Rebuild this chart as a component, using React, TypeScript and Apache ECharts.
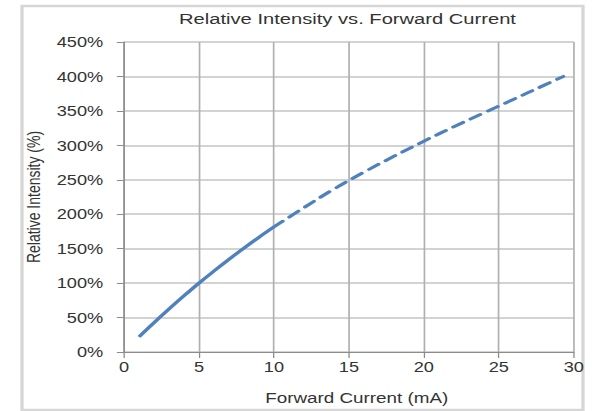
import React, { useEffect, useRef } from "react";
import * as echarts from "echarts";

const solidX = [1, 2, 3, 4, 5, 6, 7, 8, 9, 10];
const solidY = [22, 42.5, 62.3, 81.5, 100, 117.5, 134.5, 150.8, 166.5, 181.5];
const dashedX = [10, 12, 14, 16, 18, 20, 22, 24, 26, 28, 29.3];
const dashedY = [181.5, 209.5, 236.5, 261, 284, 306, 327, 347, 367, 387, 400];
const yTicks = [0, 50, 100, 150, 200, 250, 300, 350, 400, 450];
const xTicks = [0, 5, 10, 15, 20, 25, 30];

const FONT = "'Liberation Sans', Arial, sans-serif";
const SX = 1.3; // the reference image is stretched horizontally
const W = 606 / SX;
const H = 411;

export default function App() {
  const ref = useRef<HTMLDivElement>(null);
  useEffect(() => {
    if (!ref.current) return;
    const chart = echarts.init(ref.current, undefined, { renderer: "svg" });
    const left = 124 / SX;
    const right = 32 / SX;
    chart.setOption({
      animation: false,
      backgroundColor: "#ffffff",
      graphic: [
        {
          type: "rect",
          shape: { x: 22 / SX, y: 6, width: 561 / SX, height: 404 },
          style: { fill: "none", stroke: "#d6d6d6", lineWidth: 2.5 },
          silent: true,
        },
      ],
      title: {
        text: "Relative Intensity vs. Forward Current",
        left: 341 / SX,
        textAlign: "center",
        top: 6,
        textStyle: { fontFamily: FONT, fontSize: 15.5, fontWeight: "normal", color: "#333" },
      },
      grid: { left, right, top: 42, bottom: 58, containLabel: false },
      xAxis: {
        type: "value",
        min: xTicks[0],
        max: xTicks[xTicks.length - 1],
        interval: 5,
        name: "Forward Current (mA)",
        nameLocation: "middle",
        nameGap: 39,
        nameTextStyle: { fontFamily: FONT, fontSize: 14.5, color: "#333", padding: [0, 0, 0, 12] },
        axisLine: { show: true, lineStyle: { color: "#8c8c8c", width: 1.2 } },
        axisTick: { show: true, length: 6, lineStyle: { color: "#8c8c8c" } },
        axisLabel: { fontFamily: FONT, fontSize: 14, color: "#333", margin: 8 },
        splitLine: { show: true, lineStyle: { color: "#b0b0b0", width: 1.3 } },
      },
      yAxis: {
        type: "value",
        min: yTicks[0],
        max: yTicks[yTicks.length - 1],
        interval: 50,
        name: "Relative Intensity (%)",
        nameLocation: "middle",
        nameGap: left - 35 / SX - 6,
        nameRotate: 90,
        nameTextStyle: { fontFamily: FONT, fontSize: 14, color: "#333" },
        axisLine: { show: true, lineStyle: { color: "#8c8c8c", width: 1.2 } },
        axisTick: { show: true, length: 5.5, lineStyle: { color: "#8c8c8c" } },
        axisLabel: { fontFamily: FONT, fontSize: 14, color: "#333", margin: 16, formatter: "{value}%" },
        splitLine: { show: true, lineStyle: { color: "#c4c4c4", width: 1.5 } },
      },
      series: [
        {
          type: "line",
          data: solidX.map((x, i) => [x, solidY[i]]),
          smooth: 0.4,
          showSymbol: false,
          lineStyle: { color: "#4F81BD", width: 3 },
        },
        {
          type: "line",
          data: dashedX.map((x, i) => [x, dashedY[i]]),
          smooth: 0.4,
          showSymbol: false,
          lineStyle: { color: "#4F81BD", width: 3, type: [9, 6.5], cap: "round" },
        },
      ],
    });
    return () => chart.dispose();
  }, []);
  return (
    <div
      ref={ref}
      style={{
        position: "fixed",
        left: 0,
        top: 0,
        width: W,
        height: H,
        transform: `scaleX(${SX})`,
        transformOrigin: "0 0",
      }}
    />
  );
}
